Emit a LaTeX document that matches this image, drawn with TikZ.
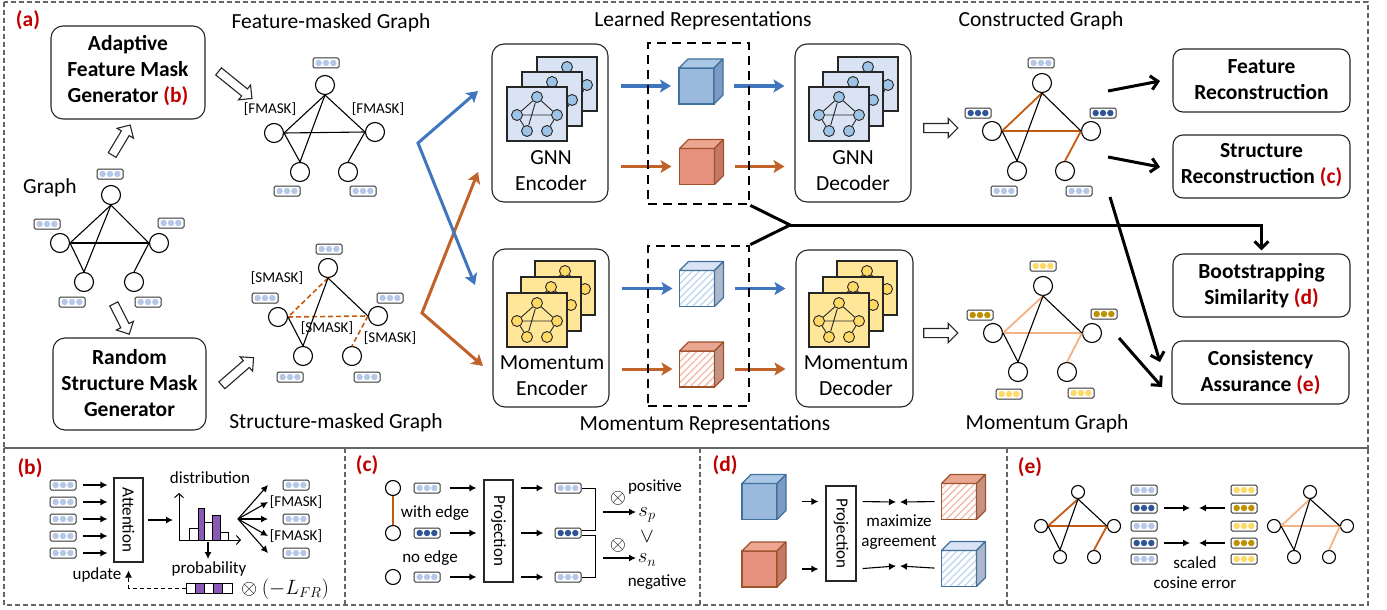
\documentclass[tikz,border=0pt]{standalone}
\usepackage{fontspec}
\setmainfont{Carlito}
\usetikzlibrary{arrows.meta,calc,shapes.arrows,patterns.meta}
\definecolor{cblue}{HTML}{4076BD}
\definecolor{corange}{HTML}{C0622A}
\definecolor{lblue}{HTML}{B4C7E7}
\definecolor{dblue}{HTML}{2F5597}
\definecolor{lyel}{HTML}{FFD966}
\definecolor{dgold}{HTML}{BF9000}
\definecolor{sqblue}{HTML}{DAE3F3}
\definecolor{ndblue}{HTML}{9DC3E6}
\definecolor{sqyel}{HTML}{FFE699}
\definecolor{ndyel}{HTML}{FFD966}
\definecolor{edgeor}{HTML}{C55A11}
\definecolor{edgelor}{HTML}{F4B183}
\definecolor{labred}{HTML}{C00000}
\definecolor{purp}{HTML}{8A5BB5}
\definecolor{cbf}{HTML}{9ABADD}
\definecolor{cbt}{HTML}{ABC7E6}
\definecolor{cbs}{HTML}{7C9CC4}
\definecolor{cbd}{HTML}{41719C}
\definecolor{cof}{HTML}{E6927E}
\definecolor{cot}{HTML}{EDA692}
\definecolor{cos}{HTML}{C47A66}
\definecolor{cod}{HTML}{A0522D}
\definecolor{hbl}{HTML}{BDD7EE}
\definecolor{hbt}{HTML}{DAE3F3}
\definecolor{hbs}{HTML}{ADB9CA}
\definecolor{hol}{HTML}{F4B9A6}
\definecolor{hot}{HTML}{E9A791}
\definecolor{hos}{HTML}{C49384}
\tikzset{
 txt/.style={font=\fontsize{21.5}{26}\selectfont, inner sep=0pt, align=center},
 btxt/.style={font=\fontsize{21.5}{26}\selectfont\bfseries, align=center, inner sep=0pt},
 stxt/.style={font=\fontsize{17}{20}\selectfont, inner sep=0pt, align=center},
 mtxt/.style={font=\fontsize{15}{18}\selectfont, inner sep=0pt},
 mathtxt/.style={font=\fontsize{20}{24}\selectfont, inner sep=0pt},
 lab/.style={font=\fontsize{21.5}{26}\selectfont\bfseries, text=labred, inner sep=0pt},
 rbox/.style={draw=black!85, line width=1.1pt, rounded corners=12pt, inner sep=0pt},
 pbox/.style={draw=black!85, line width=1.1pt, inner sep=0pt},
 vbox/.style={draw=black!80, line width=1pt, rounded corners=1.5pt, minimum width=26pt, minimum height=10pt, inner sep=0pt, fill=white},
 gnode/.style={circle, draw=black, line width=1.1pt, inner sep=0pt, fill=white},
 gedge/.style={line width=1.1pt, black},
 oredge/.style={draw=edgeor, line width=1.8pt},
 loredge/.style={draw=edgelor, line width=1.8pt},
 dashor/.style={draw=edgeor, line width=1.6pt, dash pattern=on 5pt off 3pt},
 sqr/.style={draw=black!85, line width=1.1pt, minimum width=60pt, minimum height=54pt, inner sep=0pt},
 mnode/.style={circle, draw=black!85, line width=0.9pt, minimum size=11pt, inner sep=0pt},
 medge/.style={line width=0.9pt, black!85},
 bord/.style={draw=black!60, line width=1.2pt, dash pattern=on 5pt off 3pt},
 dbox/.style={draw=black, line width=2.8pt, dash pattern=on 9pt off 6pt, inner sep=0pt},
 barrow/.style={draw=cblue, line width=3pt, line join=miter, -{Stealth[length=11pt,width=13pt,inset=2.5pt]}},
 oarrow/.style={draw=corange, line width=3pt, line join=miter, -{Stealth[length=11pt,width=13pt,inset=2.5pt]}},
 karrow/.style={draw=black, line width=3pt, -{Straight Barb[length=7pt,width=14pt]}},
 kline/.style={draw=black, line width=3pt, line join=miter},
 sarrow/.style={draw=black, line width=1.1pt, -{Latex[length=7pt,width=7pt]}},
 harrow/.style={single arrow, draw=black!85, fill=white, line width=1.1pt, inner xsep=0pt, inner ysep=4pt, single arrow head extend=5pt, single arrow tip angle=90, minimum height=#1},
}
\newcommand{\fv}[3]{\node[vbox] (#1) at (#2) {};
 \fill[#3] ($(#1.center)+(-7.3,0)$) circle (3.2pt) (#1.center) circle (3.2pt) ($(#1.center)+(7.3,0)$) circle (3.2pt);}
\newcommand{\gfive}[7]{%
 \node[gnode, minimum size=#2pt] (#1t) at (#3) {};
 \node[gnode, minimum size=#2pt] (#1l) at (#4) {};
 \node[gnode, minimum size=#2pt] (#1r) at (#5) {};
 \node[gnode, minimum size=#2pt] (#1a) at (#6) {};
 \node[gnode, minimum size=#2pt] (#1b) at (#7) {};}
\newcommand{\gedges}[2]{%
 \draw[gedge,#2] (#1t.south) -- (#1l.east);
 \draw[gedge,#2] (#1l.east) -- (#1r.west);
 \draw[gedge,#2] (#1r.west) -- (#1b.north);
 \draw[gedge] (#1t.south) -- (#1r.west);
 \draw[gedge] (#1t.south) -- (#1a.north);
 \draw[gedge] (#1l.east) -- (#1a.north);}
\newcommand{\mg}[4]{%
 \begin{scope}[shift={(#2)}]
 \node[sqr, fill=#3] (#1s) at (30,27) {};
 \node[mnode, fill=#4] (#1t) at (30,10) {};
 \node[mnode, fill=#4] (#1l) at (10,28) {};
 \node[mnode, fill=#4] (#1r) at (50,28) {};
 \node[mnode, fill=#4] (#1a) at (20,44) {};
 \node[mnode, fill=#4] (#1b) at (40,44) {};
 \draw[medge] (#1t) -- (#1l) (#1t) -- (#1r) (#1t) -- (#1a) (#1l) -- (#1r) (#1l) -- (#1a) (#1r) -- (#1b);
 \end{scope}}
\newcommand{\mycube}[6]{%
 \node[minimum width=35pt, minimum height=36pt, inner sep=0pt, outer sep=0pt, draw=#6, line width=1.1pt, #3] (#1) at (#2) {};
 \draw[draw=#6, line width=1.1pt, fill=#4, line join=round] (#1.north west) -- ++(9,-9) -- ++(35,0) -- (#1.north east) -- cycle;
 \draw[draw=#6, line width=1.1pt, fill=#5, line join=round] (#1.north east) -- ++(9,-9) -- ++(0,36) -- (#1.south east) -- cycle;}
\begin{document}
\begin{tikzpicture}[x=1pt,y=-1pt]
\useasboundingbox (0,0) rectangle (1387,610);
% borders
\draw[bord] (4,2) rectangle (1368,448);
\draw[bord] (4,448) rectangle (1368,605);
\draw[bord] (345,448) -- (345,605);
\draw[bord] (700,448) -- (700,605);
\draw[bord] (1007,448) -- (1007,605);
\node[lab] (la) at (28,20) {(a)};
% generator boxes
\node[rbox, minimum width=154pt, minimum height=93pt] (afmg) at (128,72.5) {};
\node[btxt] (afmgt) at (128,71) {Adaptive\\Feature Mask\\Generator \textcolor{labred}{(b)}};
\node[rbox, minimum width=153pt, minimum height=92pt] (rsmg) at (129.5,384) {};
\node[btxt] (rsmgt) at (129.5,383) {Random\\Structure Mask\\Generator};
% original graph
\node[txt] (glab) at (50,188) {Graph};
\gfive{g}{19}{111,195}{60,243}{159,243}{84,282}{134,282}
\gedges{g}{}
\fv{gv1}{110,174}{lblue}
\fv{gv2}{47,224}{lblue}
\fv{gv3}{171,223}{lblue}
\fv{gv4}{72,302}{lblue}
\fv{gv5}{148,302}{lblue}
% hollow arrows
\node[harrow=35pt, rotate=59] (ha1) at (120,142) {};
\node[harrow=34pt, rotate=-63] (ha2) at (120.5,317) {};
\node[harrow=43pt, rotate=-39] (ha3) at (233.5,83.5) {};
\node[harrow=42pt, rotate=41] (ha4) at (236,373) {};
\node[harrow=34pt] (ha5) at (938.5,128) {};
\node[harrow=34pt] (ha6) at (938.5,333) {};
% feature-masked graph
\node[txt] (fmglab) at (331,23) {Feature-masked Graph};
\gfive{f}{19}{325,85}{274,133}{375,132}{300,172}{348,172}
\gedges{f}{}
\fv{fv1}{326,63}{lblue}
\fv{fv2}{287,191}{lblue}
\fv{fv3}{363,191}{lblue}
\node[mtxt] (fm1) at (270,109) {[FMASK]};
\node[mtxt] (fm2) at (378,109) {[FMASK]};
% structure-masked graph
\node[txt] (smglab) at (336,423) {Structure-masked Graph};
\gfive{s}{19}{328,268}{278,317}{378,316}{303,356}{352,356}
\gedges{s}{dashor}
\fv{sv1}{329,249}{lblue}
\fv{sv2}{265,298}{lblue}
\fv{sv3}{390,298}{lblue}
\fv{sv4}{290,377}{lblue}
\fv{sv5}{367,377}{lblue}
\node[mtxt] (sm1) at (277,278) {[SMASK]};
\node[mtxt] (sm2) at (327,328) {[SMASK]};
\node[mtxt] (sm3) at (390,338) {[SMASK]};
% colored split arrows
\coordinate (vb) at (418,143);
\coordinate (vbt) at (478,91);
\coordinate (vbb) at (475,285);
\coordinate (vo) at (422,313);
\coordinate (vot) at (478,172);
\coordinate (vob) at (483,366);
\draw[oarrow, {Stealth[length=11pt,width=13pt,inset=2.5pt]}-{Stealth[length=11pt,width=13pt,inset=2.5pt]}] (vot) -- (vo) -- (vob);
\draw[barrow, {Stealth[length=11pt,width=13pt,inset=2.5pt]}-{Stealth[length=11pt,width=13pt,inset=2.5pt]}] (vbt) -- (vb) -- (vbb);
% encoders / decoders
\node[rbox, minimum width=116pt, minimum height=158pt] (genc) at (550,123) {};
\mg{ge1}{537,57}{sqblue}{ndblue}
\mg{ge2}{522,72}{sqblue}{ndblue}
\mg{ge3}{507,87}{sqblue}{ndblue}
\node[txt] (gencl) at (551,170.5) {GNN\\Encoder};
\node[rbox, minimum width=116pt, minimum height=158pt] (menc) at (551,328) {};
\mg{me1}{535,261}{sqyel}{ndyel}
\mg{me2}{521,277}{sqyel}{ndyel}
\mg{me3}{507,293}{sqyel}{ndyel}
\node[txt] (mencl) at (552,375.5) {Momentum\\Encoder};
\node[rbox, minimum width=116pt, minimum height=158pt] (gdec) at (853,123) {};
\mg{gd1}{838,57}{sqblue}{ndblue}
\mg{gd2}{823,72}{sqblue}{ndblue}
\mg{gd3}{809,87}{sqblue}{ndblue}
\node[txt] (gdecl) at (853,170.5) {GNN\\Decoder};
\node[rbox, minimum width=117pt, minimum height=157pt] (mdec) at (854.5,328.5) {};
\mg{md1}{837,261}{sqyel}{ndyel}
\mg{md2}{823,277}{sqyel}{ndyel}
\mg{md3}{809,293}{sqyel}{ndyel}
\node[txt] (mdecl) at (856,375.5) {Momentum\\Decoder};
% representations
\node[txt] (lrl) at (703,21) {Learned Representations};
\node[txt] (mrl) at (705,425) {Momentum Representations};
\mycube{cb1}{696.5,86}{fill=cbf}{cbt}{cbs}{cbd}
\mycube{co1}{697,166.5}{fill=cof}{cot}{cos}{cod}
\mycube{cb2}{697,288.5}{pattern={Lines[angle=45,distance=5pt,line width=1.3pt]}, pattern color=hbl}{hbt}{hbs}{cbd}
\mycube{co2}{697,369}{pattern={Lines[angle=45,distance=5pt,line width=1.3pt]}, pattern color=hol}{hot}{hos}{cod}
\draw[barrow, shorten <=12pt, shorten >=8pt] (genc.east |- cb1) -- (cb1.west);
\draw[oarrow, shorten <=12pt, shorten >=8pt] (genc.east |- co1) -- (co1.west);
\draw[barrow, shorten <=12pt, shorten >=7pt] (menc.east |- cb2) -- (cb2.west);
\draw[oarrow, shorten <=12pt, shorten >=7pt] (menc.east |- co2) -- (co2.west);
\draw[barrow, shorten <=20pt, shorten >=10pt] (cb1.east) -- (gdec.west |- cb1);
\draw[oarrow, shorten <=20pt, shorten >=10pt] (co1.east) -- (gdec.west |- co1);
\draw[barrow, shorten <=20pt, shorten >=10pt] (cb2.east) -- (mdec.west |- cb2);
\draw[oarrow, shorten <=20pt, shorten >=10pt] (co2.east) -- (mdec.west |- co2);
\node[dbox, minimum width=101pt, minimum height=161pt] (lrep) at (698.5,123.5) {};
\node[dbox, minimum width=101pt, minimum height=160pt] (mrep) at (698.5,326) {};
% constructed graph
\node[txt] (cglab) at (1041,21) {Constructed Graph};
\gfive{c}{19}{1042,83}{992,131}{1091,131}{1017,171}{1065,171}
\gedges{c}{oredge}
\fv{cv1}{1041,63}{lblue}
\fv{cv2}{978,113}{dblue}
\fv{cv3}{1103,113}{dblue}
\fv{cv4}{1004,191}{lblue}
\fv{cv5}{1079,191}{lblue}
% momentum graph
\node[txt] (mglab) at (1047,424) {Momentum Graph};
\gfive{m}{19}{1043,286}{993,333}{1092,333}{1018,372}{1067,372}
\gedges{m}{loredge}
\fv{mv1}{1043,266}{lyel}
\fv{mv2}{980,315}{dgold}
\fv{mv3}{1104,314}{dgold}
\fv{mv4}{1009,394}{lyel}
\fv{mv5}{1081,393}{lyel}
% objective boxes
\node[rbox, minimum width=177pt, minimum height=63pt, rounded corners=10pt] (fr) at (1261.5,80.5) {};
\node[btxt] (frt) at (1261.5,80) {Feature\\Reconstruction};
\node[rbox, minimum width=177pt, minimum height=63pt, rounded corners=10pt] (sr) at (1261.5,166.5) {};
\node[btxt] (srt) at (1261.5,165) {Structure\\Reconstruction \textcolor{labred}{(c)}};
\node[rbox, minimum width=177pt, minimum height=63pt, rounded corners=10pt] (bs) at (1261.5,285.5) {};
\node[btxt] (bst) at (1261.5,286) {Bootstrapping\\Similarity \textcolor{labred}{(d)}};
\node[rbox, minimum width=177pt, minimum height=63pt, rounded corners=10pt] (ca) at (1260.5,372.5) {};
\node[btxt] (cat) at (1260.5,372.5) {Consistency\\Assurance \textcolor{labred}{(e)}};
% black arrows
\coordinate (k1s) at (1108,91); \coordinate (k1e) at (1160,81);
\coordinate (k2s) at (1108,157); \coordinate (k2e) at (1160,167);
\coordinate (k3s) at (1110,197); \coordinate (k3e) at (1160,362);
\coordinate (k4s) at (1119,338); \coordinate (k4e) at (1162,387);
\draw[karrow] (k1s) -- (k1e);
\draw[karrow] (k2s) -- (k2e);
\draw[karrow] (k3s) -- (k3e);
\draw[karrow] (k4s) -- (k4e);
\coordinate (mj) at (790,225);
\draw[kline] (lrep.south east) -- (mj) -- (mrep.north east);
\draw[karrow, shorten >=3pt] (mj) -| (bs.north);
% ---------- panel (b)
\node[lab] (lb) at (30,468) {(b)};
\fv{bv1}{63,485}{lblue}
\fv{bv2}{63,502}{lblue}
\fv{bv3}{63,519}{lblue}
\fv{bv4}{63,536}{lblue}
\fv{bv5}{63,553}{lblue}
\node[pbox, minimum width=29pt, minimum height=84pt] (att) at (128.5,520) {};
\node[stxt, rotate=-90] (attt) at (att.center) {Attention};
\foreach \i in {1,...,5}{\draw[sarrow, shorten <=6pt, shorten >=6pt] (bv\i.east) -- (att.west |- bv\i);}
\coordinate (co) at (179,540);
\draw[sarrow, shorten <=4pt] (att.east) -- (173,520);
\fill[white] (189,528) rectangle (228,540);
\draw[line width=1pt] (189,528) rectangle (198,540);
\draw[line width=1pt, fill=purp] (198,508) rectangle (204.5,540);
\draw[line width=1pt] (204.5,522) rectangle (212,540);
\draw[line width=1pt, fill=purp] (212,515) rectangle (220,540);
\draw[line width=1pt] (220,532) rectangle (228,540);
\draw[line width=1pt, -{Straight Barb[length=4pt,width=9pt]}] (co) -- (179,493);
\draw[line width=1pt, -{Straight Barb[length=4pt,width=9pt]}] (co) -- (241,540);
\node[stxt] (distl) at (210,478) {distribution};
\draw[sarrow] (208,542) -- (208,559);
\node[stxt] (probl) at (209,569) {probability};
\node[minimum width=46pt, minimum height=10pt, inner sep=0pt] (pb) at (209,588) {};
\draw[line width=1pt] (186,583) rectangle (195.2,593);
\draw[line width=1pt, fill=purp] (195.2,583) rectangle (204.4,593);
\draw[line width=1pt] (204.4,583) rectangle (213.6,593);
\draw[line width=1pt, fill=purp] (213.6,583) rectangle (222.8,593);
\draw[line width=1pt] (222.8,583) rectangle (232,593);
\node[mathtxt, anchor=west] (lfr) at (241,589) {$\otimes\ (-L_{FR})$};
\draw[line width=1pt, dash pattern=on 4pt off 3pt, -{Latex[length=7pt,width=7pt]}, shorten >=8pt] (pb.west) -| (att.south);
\node[stxt] (updl) at (97,575) {update};
\coordinate (fan) at (238,519);
\fv{bo1}{296,485}{lblue}
\node[mtxt] (bo2) at (296,502) {[FMASK]};
\fv{bo3}{296,519}{lblue}
\node[mtxt] (bo4) at (296,536) {[FMASK]};
\fv{bo5}{296,553}{lblue}
\foreach \i in {1,...,5}{\draw[sarrow] (fan) -- ($(bo\i.center)+(-28,0)$);}
% ---------- panel (c)
\node[lab] (lc) at (367,465) {(c)};
\node[gnode, minimum size=15pt] (cc1) at (393,488) {};
\node[gnode, minimum size=15pt] (cc2) at (393,533) {};
\node[gnode, minimum size=15pt] (cc3) at (393,577) {};
\draw[oredge] (cc1) -- (cc2);
\node[stxt] (wel) at (435,513) {with edge};
\node[stxt] (nel) at (430,558) {no edge};
\fv{cu1}{427,488}{lblue}
\fv{cu2}{427,533}{dblue}
\fv{cu3}{427,577}{lblue}
\node[pbox, minimum width=29pt, minimum height=102pt] (proj1) at (498.5,531) {};
\node[stxt, rotate=-90] (proj1t) at (proj1.center) {Projection};
\fv{cw1}{568,488}{lblue}
\fv{cw2}{568,533}{dblue}
\fv{cw3}{568,577}{lblue}
\foreach \i in {1,2,3}{
 \draw[sarrow, shorten <=9pt, shorten >=7pt] (cu\i.east) -- (proj1.west |- cu\i);
 \draw[sarrow, shorten <=7pt, shorten >=11pt] (proj1.east |- cw\i) -- (cw\i.west);}
\draw[line width=1pt] (582,488) -- (595,488) -- (595,530.5) -- (582,530.5);
\draw[line width=1pt] (582,535.5) -- (595,535.5) -- (595,577) -- (582,577);
\coordinate (cp1) at (603,512); \coordinate (cp2) at (603,558);
\node[mathtxt] (sp) at (647,515) {$s_p$};
\node[mathtxt] (sn) at (647,560) {$s_n$};
\draw[sarrow] (cp1) -- (636,512);
\draw[sarrow] (cp2) -- (636,558);
\node[mathtxt] (ot1) at (618,498) {$\otimes$};
\node[mathtxt] (ot2) at (618,545) {$\otimes$};
\node[stxt] (posl) at (655,487) {positive};
\node[mathtxt] (vee) at (647,537) {$\vee$};
\node[stxt] (negl) at (657,582) {negative};
% ---------- panel (d)
\node[lab] (ld) at (725,465) {(d)};
\mycube{db}{759.5,501.5}{fill=cbf}{cbt}{cbs}{cbd}
\mycube{dor}{759.5,569}{fill=cof}{cot}{cos}{cod}
\mycube{dho}{959,501.5}{pattern={Lines[angle=45,distance=5pt,line width=1.3pt]}, pattern color=hol}{hot}{hos}{cod}
\mycube{dhb}{959,568.5}{pattern={Lines[angle=45,distance=5pt,line width=1.3pt]}, pattern color=hbl}{hbt}{hbs}{cbd}
\node[pbox, minimum width=30pt, minimum height=95pt] (proj2) at (841,533.5) {};
\node[stxt, rotate=-90] (proj2t) at (proj2.center) {Projection};
\draw[sarrow, shorten <=25pt, shorten >=7pt] (db.east) -- (proj2.west |- db);
\draw[sarrow, shorten <=25pt, shorten >=7pt] (dor.east) -- (proj2.west |- dor);
\draw[sarrow, shorten <=6pt] (proj2.east |- db) -- (896,502);
\draw[sarrow, shorten <=6pt] (proj2.east |- dor) -- (896,566);
\draw[sarrow, shorten <=7pt] (dho.west) -- (900,502);
\draw[sarrow, shorten <=7pt] (dhb.west) -- (900,566);
\node[stxt] (maxl) at (899,532) {maximize\\agreement};
% ---------- panel (e)
\node[lab] (le) at (1030,467) {(e)};
\gfive{el}{13}{1078,492}{1041,526}{1114,526}{1060,557}{1094,557}
\gedges{el}{oredge}
\gfive{er}{13}{1310,492}{1274,526}{1347,526}{1294,557}{1329,557}
\gedges{er}{loredge}
\fv{ea1}{1144,490}{lblue}
\fv{ea2}{1144,508}{dblue}
\fv{ea3}{1144,526}{lblue}
\fv{ea4}{1144,543}{dblue}
\fv{ea5}{1144,559}{lblue}
\fv{eb1}{1244,490}{lyel}
\fv{eb2}{1244,508}{dgold}
\fv{eb3}{1244,526}{lyel}
\fv{eb4}{1244,543}{dgold}
\fv{eb5}{1244,559}{lyel}
\draw[sarrow, shorten <=6pt] (ea2.east) -- (1190,508);
\draw[sarrow, shorten <=6pt] (ea4.east) -- (1190,543);
\draw[sarrow, shorten <=6pt] (eb2.west) -- (1199,508);
\draw[sarrow, shorten <=6pt] (eb4.west) -- (1199,543);
\node[stxt] (scl) at (1195,573) {scaled\\cosine error};
\end{tikzpicture}
\end{document}
